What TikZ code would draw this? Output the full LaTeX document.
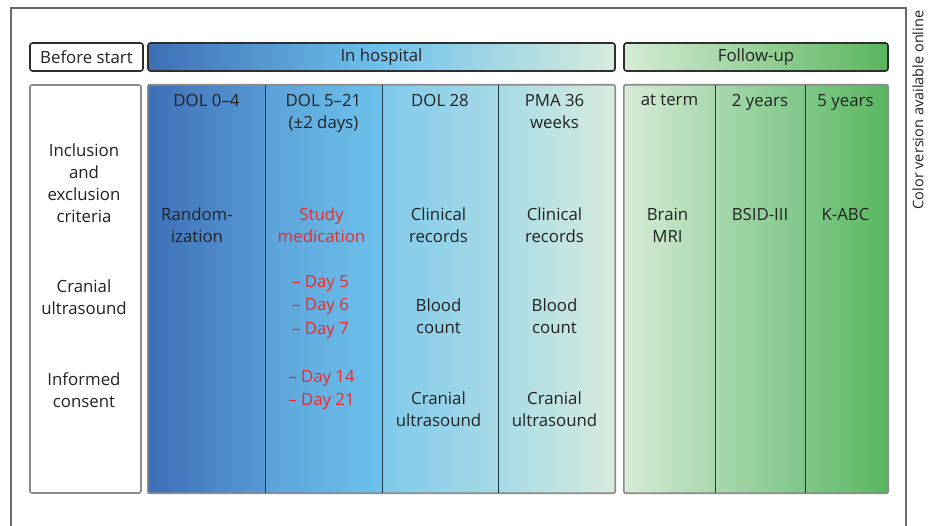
\documentclass[tikz,border=0pt]{standalone}
\usepackage{fontspec}
\setmainfont{Open Sans}
\definecolor{txt}{HTML}{222222}
\definecolor{redtxt}{HTML}{EC2A2A}
\definecolor{frame}{HTML}{6A6A6A}
\definecolor{hdrline}{HTML}{2E2E2E}
\definecolor{colline}{HTML}{8C8C8C}
\definecolor{divline}{HTML}{1E3A48}
\definecolor{bA}{HTML}{3D6FB6}
\definecolor{bB}{HTML}{5799D4}
\definecolor{bC}{HTML}{6EC2EC}
\definecolor{bD}{HTML}{A6DAE6}
\definecolor{bE}{HTML}{D8ECDE}
\definecolor{gA}{HTML}{D6ECD6}
\definecolor{gB}{HTML}{A8D8AE}
\definecolor{gC}{HTML}{7FC788}
\definecolor{gD}{HTML}{5AB65E}
\tikzset{
  hdr/.style={draw=hdrline, line width=1.6pt, rounded corners=2.5pt, inner sep=0pt, text=txt},
  colbox/.style={draw=none, inner sep=0pt, minimum height=408pt},
  lbl/.style={align=center, text=txt, inner sep=0pt},
  redlbl/.style={align=center, text=redtxt, inner sep=0pt},
}
\begin{document}
\begin{tikzpicture}[x=1pt,y=-1pt, font=\fontsize{16.8}{22}\selectfont]
\useasboundingbox (0,0) rectangle (934,526);
\fill[white] (0,0) rectangle (934,526);
% outer frame
\draw[frame, line width=1.2pt] (11,526) -- (11,8) -- (906,8) -- (906,526);
\node[rotate=90, text=txt, font=\fontsize{14.5}{16}\selectfont, inner sep=0pt] (online) at (918,110) {Color version available online};

% header bars
\node[hdr, fill=white, minimum width=113pt, minimum height=28pt] (before) at (86.5,57) {Before start};
\node[hdr, left color=bA, right color=bE, middle color=bC, minimum width=467pt, minimum height=28pt] (hosp) at (381.5,57) {In hospital};
\node[hdr, left color=gA, right color=gD, minimum width=264pt, minimum height=28pt] (follow) at (756,57) {Follow-up};

% body columns
\node[colbox, fill=white, draw=colline, line width=1.6pt, rounded corners=2pt, minimum width=111pt] (pre) at (85.5,289) {};
\node[colbox, left color=bA, right color=bB, minimum width=117pt] (c1) at (206.5,289) {};
\node[colbox, left color=bB!80!bC, right color=bC, minimum width=117pt] (c2) at (323.5,289) {};
\node[colbox, left color=bC!70!bD, right color=bD, minimum width=116pt] (c3) at (440,289) {};
\node[colbox, left color=bD, right color=bE, minimum width=117pt] (c4) at (556.5,289) {};
\node[colbox, left color=gA, right color=gB, minimum width=91pt] (f1) at (669.5,289) {};
\node[colbox, left color=gB, right color=gC, minimum width=90pt] (f2) at (760,289) {};
\node[colbox, left color=gC, right color=gD, minimum width=83pt] (f3) at (846.5,289) {};
% outlines
\draw[colline, line width=1.6pt, rounded corners=2pt] (c1.south west) rectangle (c4.north east);
\draw[colline, line width=1.6pt, rounded corners=2pt] (f1.south west) rectangle (f3.north east);
\draw[divline, line width=1.4pt] (c1.north east) -- (c1.south east);
\draw[divline, line width=1.4pt] (c2.north east) -- (c2.south east);
\draw[divline, line width=1.4pt] (c3.north east) -- (c3.south east);
\draw[divline, line width=1.4pt] (f1.north east) -- (f1.south east);
\draw[divline, line width=1.4pt] (f2.north east) -- (f2.south east);

% left column texts
\node[lbl, anchor=north] (incl) at (84,144) {Inclusion\\and\\exclusion\\criteria};
\node[lbl, anchor=north] (cus) at (84,280) {Cranial\\ultrasound};
\node[lbl, anchor=north] (cons) at (84,372) {Informed\\consent};

% column headers
\node[lbl, anchor=north] (h1) at (206.5,94) {DOL 0–4};
\node[lbl, anchor=north] (h2) at (323.5,94) {DOL 5–21\\(±2 days)};
\node[lbl, anchor=north] (h3) at (440,94) {DOL 28};
\node[lbl, anchor=north] (h4) at (554.5,94) {PMA 36\\weeks};
\node[lbl, anchor=north] (h5) at (669.5,94) {at term};
\node[lbl, anchor=north] (h6) at (760,94) {2 years};
\node[lbl, anchor=north] (h7) at (845.5,94) {5 years};

% column contents
\node[lbl, anchor=north] (rand) at (197,208) {Random-\\ization};
\node[redlbl, anchor=north] (med) at (321.5,208) {Study\\medication};
\node[redlbl, anchor=north, font=\fontsize{16.8}{23.5}\selectfont] (d5) at (320.5,275) {– Day 5\\– Day 6\\– Day 7};
\node[redlbl, anchor=north, font=\fontsize{16.8}{23}\selectfont] (d14) at (321.5,370) {– Day 14\\– Day 21};
\node[lbl, anchor=north] (cr3) at (438.5,208) {Clinical\\records};
\node[lbl, anchor=north] (bc3) at (438.5,299) {Blood\\count};
\node[lbl, anchor=north] (cu3) at (438.5,392) {Cranial\\ultrasound};
\node[lbl, anchor=north] (cr4) at (554.5,208) {Clinical\\records};
\node[lbl, anchor=north] (bc4) at (554.5,299) {Blood\\count};
\node[lbl, anchor=north] (cu4) at (554.5,392) {Cranial\\ultrasound};
\node[lbl, anchor=north] (mri) at (667.5,208) {Brain\\MRI};
\node[lbl, anchor=north] (bsid) at (760,208) {BSID-III};
\node[lbl, anchor=north] (kabc) at (845.5,208) {K-ABC};
\end{tikzpicture}
\end{document}
